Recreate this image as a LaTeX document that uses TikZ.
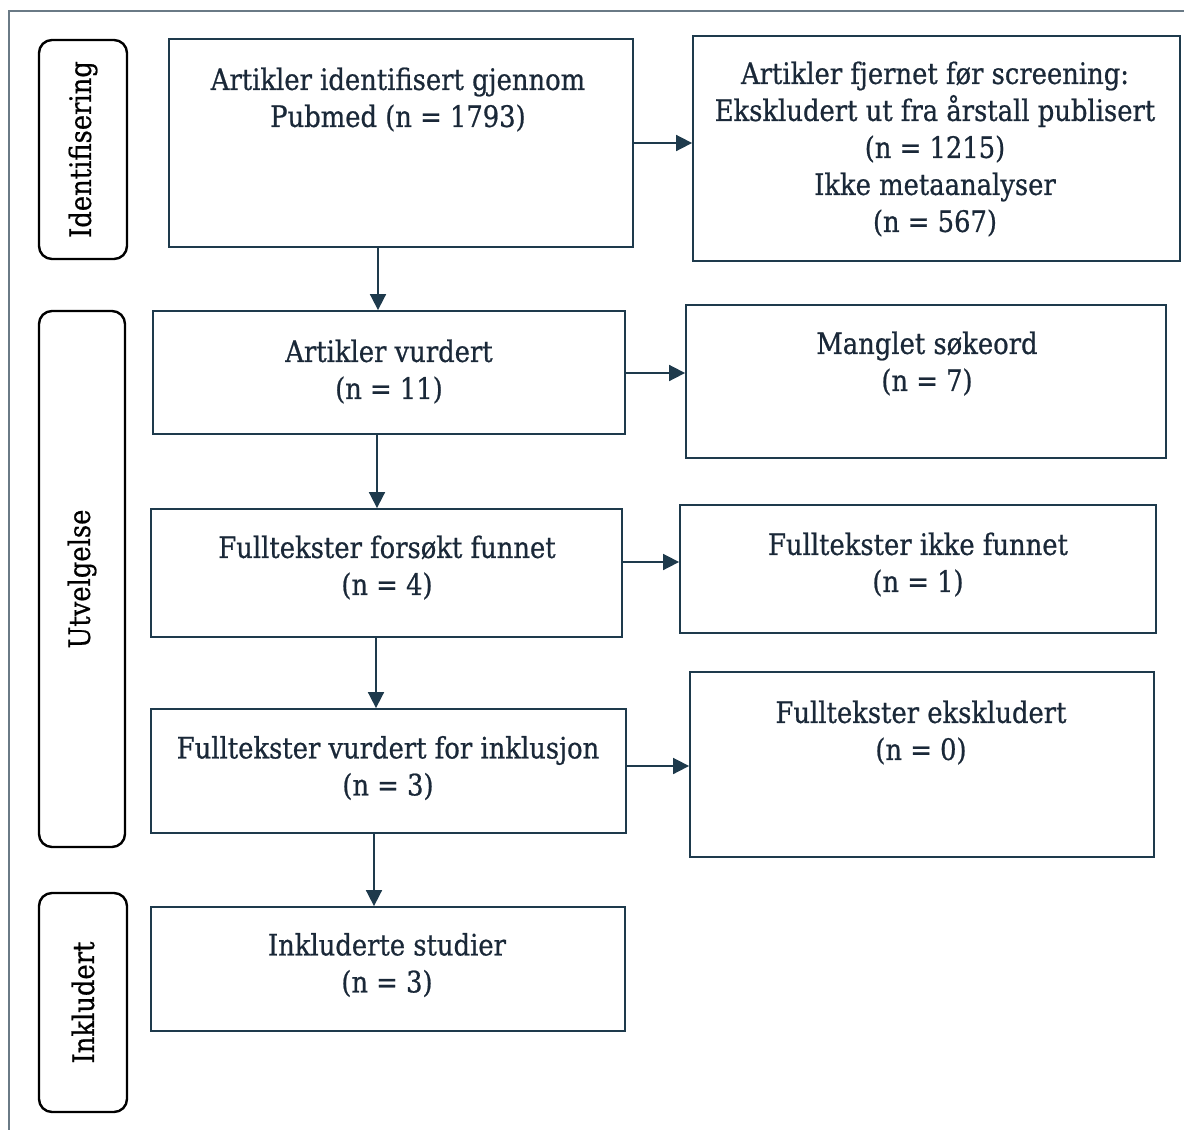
\documentclass[tikz,border=0pt]{standalone}
\usepackage{fontspec}
\setmainfont[FakeStretch=0.875,FakeBold=0.7]{DejaVu Serif}
\usetikzlibrary{arrows.meta}
\definecolor{boxc}{HTML}{1E3A4C}
\definecolor{txtc}{HTML}{1A2838}
\definecolor{framec}{HTML}{6A7A86}
\tikzset{
  box/.style={draw=boxc, line width=1.8pt, inner sep=0pt},
  phase/.style={draw=black, line width=2.4pt, rounded corners=13pt, inner sep=0pt},
  txt/.style={text=txtc, align=center, inner sep=0pt, font=\fontsize{29.5}{37}\selectfont},
  ptxt/.style={text=black, inner sep=0pt, rotate=90, font=\fontsize{29.5}{37}\selectfont},
  arr/.style={draw=boxc, line width=1.7pt, -{Triangle[length=16pt,width=16pt]}}
}
\begin{document}
\begin{tikzpicture}[x=1pt,y=-1pt]
\useasboundingbox (0,0) rectangle (1184,1130);
\draw[framec, line width=1.3pt] (9,1130) -- (9,11) -- (1184,11);
% phase labels
\node[phase, minimum width=88pt, minimum height=219pt] (P1) at (83,149.5) {};
\node[ptxt] (P1t) at (P1.center) {Identifisering};
\node[phase, minimum width=86pt, minimum height=536pt] (P2) at (82,579) {};
\node[ptxt] (P2t) at (P2.center) {Utvelgelse};
\node[phase, minimum width=88pt, minimum height=219pt] (P3) at (83,1002.5) {};
\node[ptxt] (P3t) at (P3.center) {Inkludert};
% boxes
\node[box, minimum width=464pt, minimum height=208pt] (A) at (401,143) {};
\node[txt] (At) at (398,99.5) {Artikler identifisert gjennom\\Pubmed (n = 1793)};
\node[box, minimum width=487pt, minimum height=225pt] (B) at (936.5,148.5) {};
\node[txt] (Bt) at (935,149) {Artikler fjernet før screening:\\Ekskludert ut fra årstall publisert\\(n = 1215)\\Ikke metaanalyser\\(n = 567)};
\node[box, minimum width=472pt, minimum height=123pt] (C) at (389,372.5) {};
\node[txt] (Ct) at (389,371.5) {Artikler vurdert\\(n = 11)};
\node[box, minimum width=480pt, minimum height=153pt] (D) at (926,381.5) {};
\node[txt] (Dt) at (927,363.5) {Manglet søkeord\\(n = 7)};
\node[box, minimum width=471pt, minimum height=128pt] (E) at (386.5,573) {};
\node[txt] (Et) at (387,567.5) {Fulltekster forsøkt funnet\\(n = 4)};
\node[box, minimum width=476pt, minimum height=128pt] (F) at (918,569) {};
\node[txt] (Ft) at (918,564.5) {Fulltekster ikke funnet\\(n = 1)};
\node[box, minimum width=475pt, minimum height=124pt] (G) at (388.5,771) {};
\node[txt] (Gt) at (388,768) {Fulltekster vurdert for inklusjon\\(n = 3)};
\node[box, minimum width=464pt, minimum height=185pt] (H) at (922,764.5) {};
\node[txt] (Ht) at (921,732.5) {Fulltekster ekskludert\\(n = 0)};
\node[box, minimum width=474pt, minimum height=124pt] (I) at (388,969) {};
\node[txt] (It) at (387,965) {Inkluderte studier\\(n = 3)};
% arrows
\draw[arr] (A.east) -- (A.east -| B.west);
\draw[arr] ([yshift=-0.5pt]C.east) -- ([yshift=-0.5pt]C.east -| D.west);
\draw[arr] ([yshift=11pt]E.east) -- ([yshift=11pt]E.east -| F.west);
\draw[arr] ([yshift=5pt]G.east) -- ([yshift=5pt]G.east -| H.west);
\draw[arr] ([xshift=-23pt]A.south) -- ([xshift=-23pt]A.south |- C.north);
\draw[arr] ([xshift=-12pt]C.south) -- ([xshift=-12pt]C.south |- E.north);
\draw[arr] ([xshift=-10.5pt]E.south) -- ([xshift=-10.5pt]E.south |- G.north);
\draw[arr] ([xshift=-14.5pt]G.south) -- ([xshift=-14.5pt]G.south |- I.north);
\end{tikzpicture}
\end{document}
